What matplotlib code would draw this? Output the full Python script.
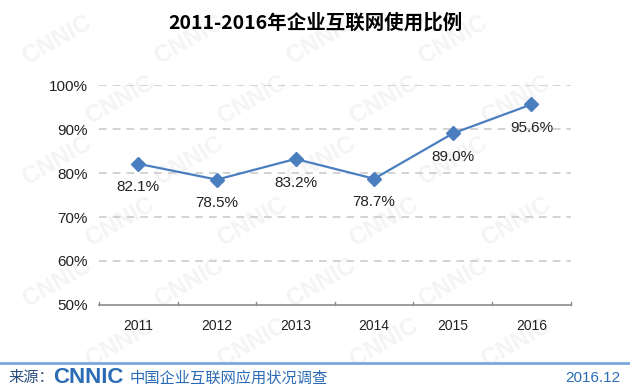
import matplotlib
matplotlib.use("Agg")
import matplotlib.pyplot as plt
from matplotlib.lines import Line2D

plt.rcParams["font.family"] = ["Liberation Sans", "Noto Sans CJK SC", "DejaVu Sans"]

years = ["2011", "2012", "2013", "2014", "2015", "2016"]
usage = [82.1, 78.5, 83.2, 78.7, 89.0, 95.6]
labels = ["82.1%", "78.5%", "83.2%", "78.7%", "89.0%", "95.6%"]
yticks = [50, 60, 70, 80, 90, 100]

BLUE = "#4a7ebf"
SRC = "#2b6cb5"

fig = plt.figure(figsize=(6.3, 3.92), dpi=100)

# faint CNNIC watermark, on a background layer kept inside the figure
bg = fig.add_axes([0, 0, 1, 1], zorder=-5)
bg.axis("off")
bg.set_xlim(0, 1); bg.set_ylim(0, 1)
for row in range(6):
    for col in range(5):
        x = 0.09 + col * 0.21 + (row % 2) * 0.1
        y = 0.9 - row * 0.155
        if x > 0.92:
            continue
        bg.text(x, y, "CNNIC", rotation=30, fontsize=17, fontweight="bold",
                color="#f4f4f4", ha="center", va="center")

ax = fig.add_axes([0.157, 0.222, 0.749, 0.561], zorder=2)
ax.patch.set_alpha(0)
xs = range(len(years))
ax.plot(xs, usage, color=BLUE, lw=1.6, marker="D", ms=7, mfc=BLUE, mec=BLUE, zorder=3)
for x, v, t in zip(xs, usage, labels):
    ax.annotate(t, (x, v), xytext=(0, -12), textcoords="offset points",
                ha="center", va="top", fontsize=11, color="#222222")

ax.set_xlim(-0.5, len(years) - 0.5)
ax.set_ylim(50, 100)
ax.set_yticks(yticks)
ax.set_yticklabels([f"{t}%" for t in yticks], fontsize=11, color="#222222")
ax.set_xticks(list(xs))
ax.set_xticklabels(years, fontsize=10, color="#222222")
ax.tick_params(axis="both", length=0, pad=8)
ax.tick_params(axis="x", pad=10)
for t in yticks[1:]:
    ax.axhline(t, color="#c8c8c8", lw=1.1, ls=(0, (5, 4)), zorder=1)
for s in ["top", "right", "left"]:
    ax.spines[s].set_visible(False)
ax.spines["bottom"].set_color("#8c8c8c")
ax.spines["bottom"].set_linewidth(1.2)
# small upward ticks at category boundaries
for b in [i - 0.5 for i in range(len(years) + 1)]:
    ax.plot([b, b], [50, 50.7], color="#8c8c8c", lw=1.0, clip_on=False)

fig.text(0.5, 0.943, "2011-2016年企业互联网使用比例", ha="center", va="center",
         fontsize=14, fontweight="bold", family=["Noto Sans CJK SC", "DejaVu Sans"])

fig.add_artist(Line2D([0, 1], [0.074, 0.074], transform=fig.transFigure,
                      color="#7aa7dc", lw=2))
fig.text(0.013, 0.036, "来源：", ha="left", va="center", fontsize=11,
         color="#2a4d7a", family=["Noto Sans CJK SC"])
fig.text(0.084, 0.036, "CNNIC", ha="left", va="center", fontsize=16,
         fontweight="heavy", color=SRC, family=["Liberation Sans"])
fig.text(0.205, 0.036, "中国企业互联网应用状况调查", ha="left", va="center", fontsize=11,
         color=SRC, family=["Noto Sans CJK SC"])
fig.text(0.985, 0.036, "2016.12", ha="right", va="center", fontsize=11, color=SRC)

fig.savefig("out.png", dpi=100)
